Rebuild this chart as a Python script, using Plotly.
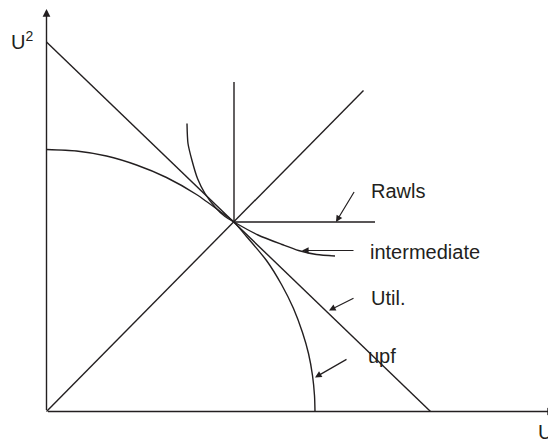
import plotly.graph_objects as go

# ---- data (utility units, origin at the axes corner) ----
util_u1 = [0, 384]
util_u2 = [369.5, 0]

diag_u1 = [0, 317]
diag_u2 = [0, 321]

rawls_u1 = [187.5, 187.5, 328.5]
rawls_u2 = [329.5, 189.5, 189.5]

upf_u1 = [0, 30, 60, 90, 120, 150, 175, 187.5, 200, 220, 235, 247, 256, 262, 266, 268, 268.5]
upf_u2 = [262, 260.5, 255.5, 246.5, 234, 217, 199, 189.5, 175, 151, 127, 103, 79, 58, 36, 16, 0]

inter_u1 = [140.5, 141.5, 145.5, 151, 158.5, 168.5, 178.5, 187.5, 211.5, 235.5, 252, 270, 288.5]
inter_u2 = [288, 268, 251, 233, 218, 204.5, 195, 189.5, 176.5, 167, 161, 157, 155.5]

axis_end_u1 = 508.5
axis_end_u2 = 402.5

labels = ["Rawls", "intermediate", "Util.", "upf"]
label_u1 = [322.5, 321.5, 322.5, 319.5]
label_u2 = [221, 160, 114, 56]
arrow_tail_u1 = [308.5, 308.5, 308.5, 301.5]
arrow_tail_u2 = [221, 161, 114, 53]
arrow_tip_u1 = [289.5, 255.5, 282.5, 268.5]
arrow_tip_u2 = [189.5, 161, 101, 34]

INK = "#231f20"
FONT = "Liberation Sans, Arial, sans-serif"
LW = 1.4

fig = go.Figure()
for xs, ys, shape in [(util_u1, util_u2, "linear"), (diag_u1, diag_u2, "linear"),
                      (rawls_u1, rawls_u2, "linear"), (upf_u1, upf_u2, "spline"),
                      (inter_u1, inter_u2, "spline")]:
    fig.add_trace(go.Scatter(x=xs, y=ys, mode="lines",
                             line=dict(color=INK, width=LW, shape=shape, smoothing=0.7),
                             hoverinfo="skip", showlegend=False, cliponaxis=False))

ann = []
# axes with arrows
ann.append(dict(x=0, y=axis_end_u2, ax=0, ay=0, xref="x", yref="y", axref="x", ayref="y",
                showarrow=True, arrowhead=2, arrowsize=1.1, arrowwidth=LW, arrowcolor=INK, text=""))
ann.append(dict(x=axis_end_u1, y=0, ax=0, ay=0, xref="x", yref="y", axref="x", ayref="y",
                showarrow=True, arrowhead=2, arrowsize=1.1, arrowwidth=LW, arrowcolor=INK, text=""))
# label pointers
for i in range(len(labels)):
    ann.append(dict(x=arrow_tip_u1[i], y=arrow_tip_u2[i], ax=arrow_tail_u1[i], ay=arrow_tail_u2[i],
                    xref="x", yref="y", axref="x", ayref="y", showarrow=True, arrowhead=2,
                    arrowsize=1.1, arrowwidth=1.2, arrowcolor=INK, text=""))
    ann.append(dict(x=label_u1[i], y=label_u2[i], xref="x", yref="y", text=labels[i],
                    showarrow=False, xanchor="left", yanchor="middle",
                    font=dict(family=FONT, size=20, color=INK)))
# axis titles
ann.append(dict(x=-12, y=371.5, xref="x", yref="y", text="U<sup>2</sup>", showarrow=False,
                xanchor="right", yanchor="middle", font=dict(family=FONT, size=20, color=INK)))
ann.append(dict(x=489, y=-19, xref="x", yref="y", text="U<sup>1</sup>", showarrow=False,
                xanchor="left", yanchor="middle", font=dict(family=FONT, size=20, color=INK)))

# the page body adds an 8px margin, so the figure is 548x432 and offset accordingly
fig.update_layout(
    width=548, height=432, margin=dict(l=0, r=0, t=0, b=0),
    paper_bgcolor="white", plot_bgcolor="white",
    xaxis=dict(range=[-38.5, 509.5], visible=False, fixedrange=True),
    yaxis=dict(range=[-28.5, 403.5], visible=False, fixedrange=True),
    annotations=ann, showlegend=False,
)
fig.write_html("out.html")
